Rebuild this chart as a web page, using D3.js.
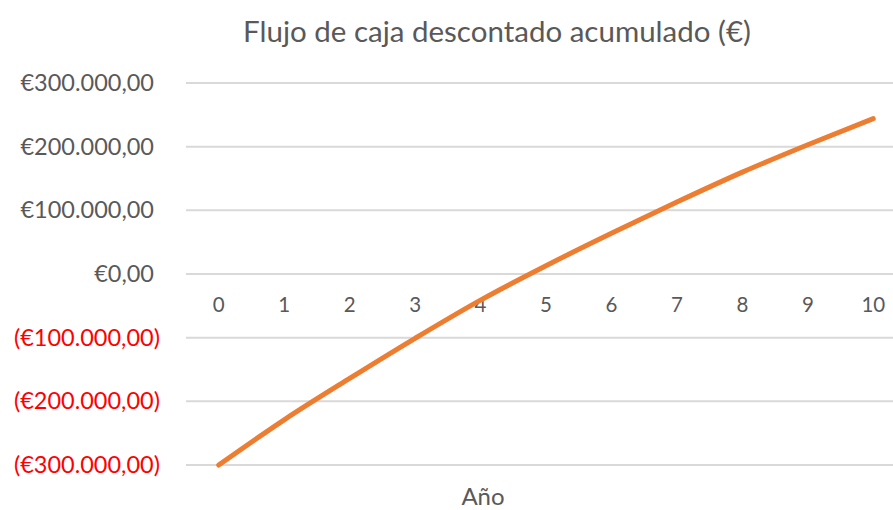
<!DOCTYPE html>
<html>
<head>
<meta charset="utf-8">
<script src="https://cdn.jsdelivr.net/npm/d3@7"></script>
<style>
  body { margin: 0; background: #fff; }
  svg { display: block; font-family: Lato, "Open Sans", sans-serif; }
</style>
</head>
<body>
<div id="chart"></div>
<script>
// cumulative discounted cash flow per year
const years = [0, 1, 2, 3, 4, 5, 6, 7, 8, 9, 10];
const cumulative = [-300000, -229000, -164000, -101000, -41000, 13000, 64000, 113000, 160000, 203000, 244000];
const yTicks = [-300000, -200000, -100000, 0, 100000, 200000, 300000];
const title = 'Flujo de caja descontado acumulado (€)';
const xTitle = 'Año';

const width = 893, height = 510;
const margin = { top: 83, left: 186, bottom: 45 };
const plotRight = 906; // plot area runs past the right edge of the picture

const es = d3.formatLocale({ decimal: ',', thousands: '.', grouping: [3], currency: ['€', ''] });
const money = es.format('($,.2f');

const svg = d3.select('#chart')
  .append('svg')
  .attr('width', width)
  .attr('height', height);

// scales
const x = d3.scaleBand()
  .domain(years)
  .range([margin.left, plotRight])
  .padding(0);
const y = d3.scaleLinear()
  .domain([-300000, 300000])
  .range([465, margin.top]);

// gridlines
svg.append('g')
  .attr('class', 'grid')
  .selectAll('line')
  .data(yTicks)
  .join('line')
  .attr('x1', margin.left)
  .attr('x2', plotRight)
  .attr('y1', d => y(d))
  .attr('y2', d => y(d))
  .attr('stroke', '#d9d9d9')
  .attr('stroke-width', 2);

// y axis labels (negatives in red, the closing paren hangs a bit to the right)
const yAxis = svg.append('g')
  .attr('transform', `translate(${margin.left}, 0)`)
  .call(d3.axisLeft(y).tickValues(yTicks).tickFormat(money).tickSize(0).tickPadding(32));
yAxis.select('.domain').remove();
yAxis.selectAll('text')
  .attr('font-size', 23.5)
  .attr('font-family', 'Lato, "Open Sans", sans-serif')
  .attr('fill', d => d < 0 ? '#ff0000' : '#595959')
  .attr('dx', d => d < 0 ? 6 : 0);

// x axis labels sit under the zero line
const xAxis = svg.append('g')
  .attr('transform', `translate(0, ${y(0)})`)
  .call(d3.axisBottom(x).tickSize(0).tickPadding(23));
xAxis.select('.domain').remove();
xAxis.selectAll('text')
  .attr('font-size', 20.5)
  .attr('font-family', 'Lato, "Open Sans", sans-serif')
  .attr('fill', '#595959');

// smoothed line
const line = d3.line()
  .x((d, i) => x(years[i]) + x.bandwidth() / 2)
  .y(d => y(d))
  .curve(d3.curveMonotoneX);

svg.append('path')
  .datum(cumulative)
  .attr('d', line)
  .attr('fill', 'none')
  .attr('stroke', '#ed7d31')
  .attr('stroke-width', 5)
  .attr('stroke-linecap', 'round')
  .attr('stroke-linejoin', 'round');

// titles
svg.append('text')
  .attr('x', 497)
  .attr('y', 42)
  .attr('text-anchor', 'middle')
  .attr('font-size', 29.5)
  .attr('fill', '#595959')
  .text(title);

svg.append('text')
  .attr('x', 483)
  .attr('y', 505)
  .attr('text-anchor', 'middle')
  .attr('font-size', 24)
  .attr('fill', '#595959')
  .text(xTitle);
</script>
</body>
</html>
